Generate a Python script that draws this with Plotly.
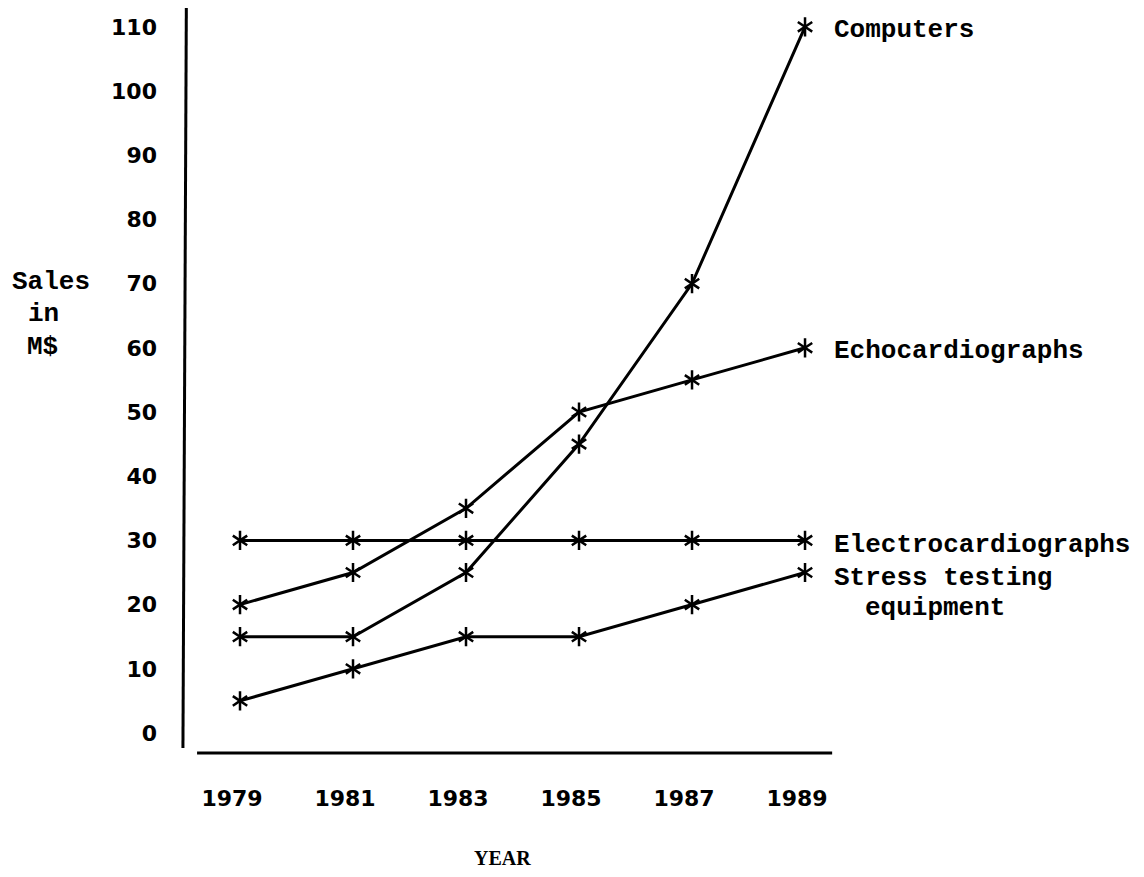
import plotly.graph_objects as go

years = [1979, 1981, 1983, 1985, 1987, 1989]
computers = [15, 15, 25, 45, 70, 110]
echocardiographs = [20, 25, 35, 50, 55, 60]
electrocardiographs = [30, 30, 30, 30, 30, 30]
stress_testing = [5, 10, 15, 15, 20, 25]

series = [
    ("Computers", computers),
    ("Echocardiographs", echocardiographs),
    ("Electrocardiographs", electrocardiographs),
    ("Stress testing", stress_testing),
]

y_ticks = [0, 10, 20, 30, 40, 50, 60, 70, 80, 90, 100, 110]

MONO = "Liberation Mono"
SANS = "DejaVu Sans"

fig = go.Figure()
for name, vals in series:
    fig.add_trace(go.Scatter(
        x=years, y=vals, mode="lines+markers", name=name,
        line=dict(color="black", width=3),
        marker=dict(symbol="y-up-open", size=12, color="black",
                    line=dict(color="black", width=2.5)),
        showlegend=False, hoverinfo="skip"))
    fig.add_trace(go.Scatter(
        x=years, y=vals, mode="markers", name=name,
        marker=dict(symbol="y-down-open", size=12, color="black",
                    line=dict(color="black", width=2.5)),
        showlegend=False, hoverinfo="skip"))

# axis lines (separate, not touching, as in the original)
fig.add_shape(type="line", xref="x", yref="y", x0=1977.99, x1=1978.05, y0=-2.34, y1=112.93,
              line=dict(color="black", width=3))
fig.add_shape(type="line", xref="x", yref="y", x0=1978.24, x1=1989.48, y0=-3.12, y1=-3.12,
              line=dict(color="black", width=3))

# series labels
label_font = dict(family=MONO, size=26, color="black")
ann = [
    ("<b>Computers</b>", 1989, computers[-1], 27, -3),
    ("<b>Echocardiographs</b>", 1989, echocardiographs[-1], 27, -3),
    ("<b>Electrocardiographs</b>", 1989, electrocardiographs[-1], 27, -5),
    ("<b>Stress testing</b>", 1989, stress_testing[-1], 27, -5),
    ("<b>equipment</b>", 1989, stress_testing[-1], 58, -35),
]
for text, x, y, xs, ys in ann:
    fig.add_annotation(x=x, y=y, xref="x", yref="y", text=text, showarrow=False,
                       xanchor="left", yanchor="middle", xshift=xs, yshift=ys,
                       font=label_font)

# y axis title lines (screen pixel positions -> paper coords)
for text, px, py in [("Sales", 10, 282), ("in", 26, 314), ("M$", 25, 347)]:
    fig.add_annotation(x=(px - 180) / 660, y=(755 - py) / 747, xref="paper", yref="paper",
                       text="<b>" + text + "</b>", showarrow=False, xanchor="left",
                       yanchor="middle", font=label_font)

fig.add_annotation(x=(502 - 180) / 660, y=(755 - 858) / 747, xref="paper", yref="paper",
                   text="<b>YEAR</b>", showarrow=False, xanchor="center", yanchor="middle",
                   font=dict(family="Liberation Serif", size=20, color="black"))

fig.update_layout(
    width=1136, height=869,
    margin=dict(l=172, r=304, t=0, b=122),
    paper_bgcolor="white", plot_bgcolor="white",
    xaxis=dict(range=[1977.938, 1989.619], tickvals=years, ticktext=[str(y) for y in years],
               showgrid=False, zeroline=False, showline=False, ticks="",
               tickfont=dict(family=SANS, size=22, color="black", weight="bold"),
               ticklabelstandoff=28, ticklabelshift=-8),
    yaxis=dict(range=[-3.427, 112.93], tickvals=y_ticks, ticktext=[str(v) for v in y_ticks],
               showgrid=False, zeroline=False, showline=False, ticks="",
               tickfont=dict(family=SANS, size=22, color="black", weight="bold"),
               ticklabelstandoff=22),
)

fig.write_html("out.html")
